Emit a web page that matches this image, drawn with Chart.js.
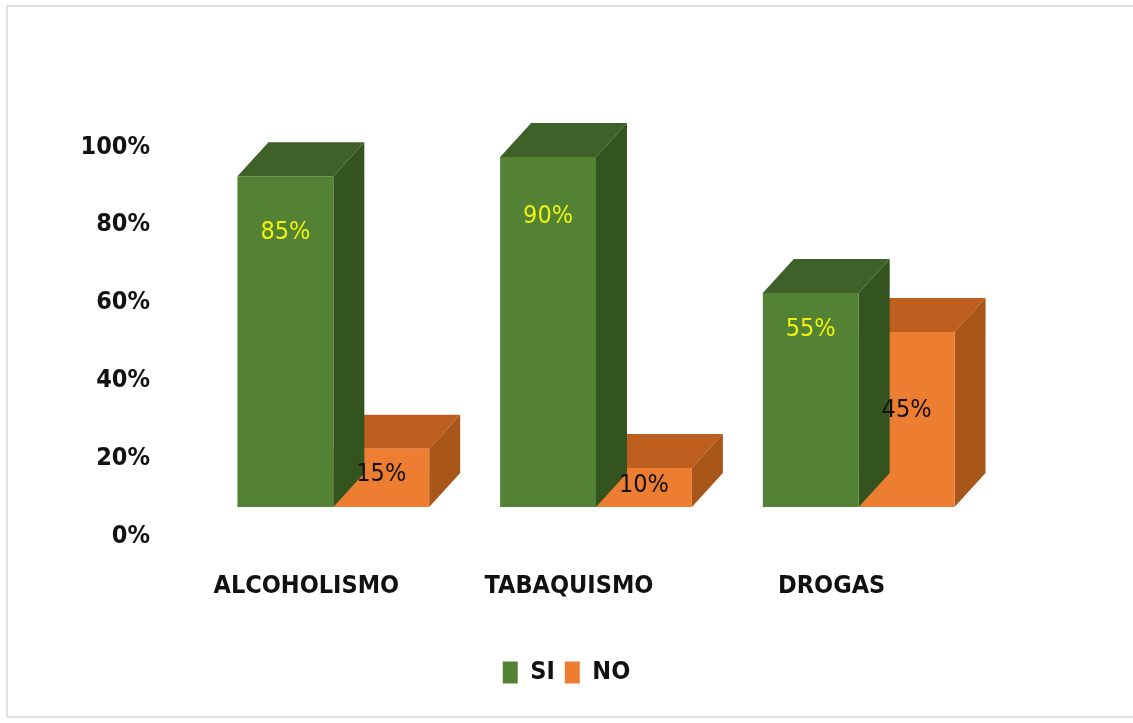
<!DOCTYPE html>
<html>
<head>
<meta charset="utf-8">
<script src="https://cdn.jsdelivr.net/npm/chart.js@4.4.0/dist/chart.umd.min.js"></script>
<style>
  body { margin: 0; background: #fff; }
  #wrap { position: relative; width: 1133px; height: 723px; overflow: hidden; }
  #frame { position: absolute; left: 6px; top: 5px; width: 1140px; height: 713px; border: 2px solid #e2e2e2; box-sizing: border-box; }
  canvas { position: absolute; left: 0; top: 0; }
</style>
</head>
<body>
<div id="wrap">
  <div id="frame"></div>
  <canvas id="myChart" width="1133" height="723"></canvas>
</div>
<script>
const categories = ["ALCOHOLISMO", "TABAQUISMO", "DROGAS"];
const siValues = [85, 90, 55];
const noValues = [15, 10, 45];
const yTicks = [0, 20, 40, 60, 80, 100];

const FONT = "'Liberation Sans Narrow', 'DejaVu Sans Condensed', 'Arial Narrow', sans-serif";
const DEPTH_X = 31;
const DEPTH_Y = 34;

const faceColors = [
  { top: "#3d6128", side: "#33531f" },
  { top: "#bf5f1f", side: "#a9561b" },
];

// draws the top and side faces behind each front bar, then the value labels
const depthPlugin = {
  id: "depth",
  beforeDatasetDraw(chart, args) {
    const ctx = chart.ctx;
    const colors = faceColors[args.index];
    args.meta.data.forEach((bar) => {
      const half = bar.width / 2;
      const x0 = bar.x - half;
      const x1 = bar.x + half;
      const yT = bar.y;
      const yB = bar.base;
      ctx.save();
      ctx.fillStyle = colors.top;
      ctx.beginPath();
      ctx.moveTo(x0, yT);
      ctx.lineTo(x0 + DEPTH_X, yT - DEPTH_Y);
      ctx.lineTo(x1 + DEPTH_X, yT - DEPTH_Y);
      ctx.lineTo(x1, yT);
      ctx.closePath();
      ctx.fill();
      ctx.fillStyle = colors.side;
      ctx.beginPath();
      ctx.moveTo(x1, yT);
      ctx.lineTo(x1 + DEPTH_X, yT - DEPTH_Y);
      ctx.lineTo(x1 + DEPTH_X, yB - DEPTH_Y);
      ctx.lineTo(x1, yB);
      ctx.closePath();
      ctx.fill();
      ctx.restore();
    });
  },
  afterDatasetsDraw(chart) {
    const ctx = chart.ctx;
    ctx.save();
    ctx.font = "25px " + FONT;
    ctx.textAlign = "center";
    ctx.textBaseline = "middle";
    chart.data.datasets.forEach((ds, i) => {
      const meta = chart.getDatasetMeta(i);
      const frac = i === 0 ? 0.83 : 0.55;
      ctx.fillStyle = i === 0 ? "#eef20f" : "#111";
      meta.data.forEach((bar, j) => {
        const y = bar.base - frac * (bar.base - bar.y);
        ctx.fillText(ds.data[j] + "%", bar.x, y);
      });
    });
    ctx.restore();
  },
};

function createChart() {
  const ctx = document.getElementById("myChart").getContext("2d");
  new Chart(ctx, {
    type: "bar",
    data: {
      labels: categories,
      datasets: [
        { label: "SI", data: siValues, backgroundColor: "#548235" },
        { label: "NO", data: noValues, backgroundColor: "#ed7d31" },
      ],
    },
    options: {
      responsive: false,
      animation: false,
      categoryPercentage: 0.73,
      barPercentage: 1,
      layout: { padding: { top: 118, right: 0, bottom: 28, left: 0 } },
      plugins: {
        tooltip: { enabled: false },
        legend: {
          position: "bottom",
          labels: {
            color: "#111",
            font: { family: FONT, size: 25, weight: "bold" },
            boxWidth: 15,
            boxHeight: 22,
            padding: 10,
          },
        },
      },
      scales: {
        x: {
          grid: { display: false },
          border: { display: false },
          ticks: {
            color: "#111",
            font: { family: FONT, size: 25, weight: "bold" },
            padding: 56,
            labelOffset: -27,
          },
          afterFit(scale) { scale.height = 143; },
        },
        y: {
          min: 0,
          max: 100,
          grid: { display: false, drawTicks: false },
          border: { display: false },
          afterBuildTicks(scale) { scale.ticks = yTicks.map((v) => ({ value: v })); },
          ticks: {
            color: "#111",
            font: { family: FONT, size: 25, weight: "bold" },
            padding: 52,
            labelOffset: 29,
            callback: (v) => v + "%",
          },
          afterFit(scale) { scale.width = 202; },
        },
        // empty right-hand gutter so the legend stays centred on the page
        gutter: {
          position: "right",
          grid: { display: false, drawTicks: false },
          border: { display: false },
          ticks: { display: false },
          afterFit(scale) { scale.width = 143; },
        },
      },
    },
    plugins: [depthPlugin],
  });
}

createChart();
</script>
</body>
</html>
